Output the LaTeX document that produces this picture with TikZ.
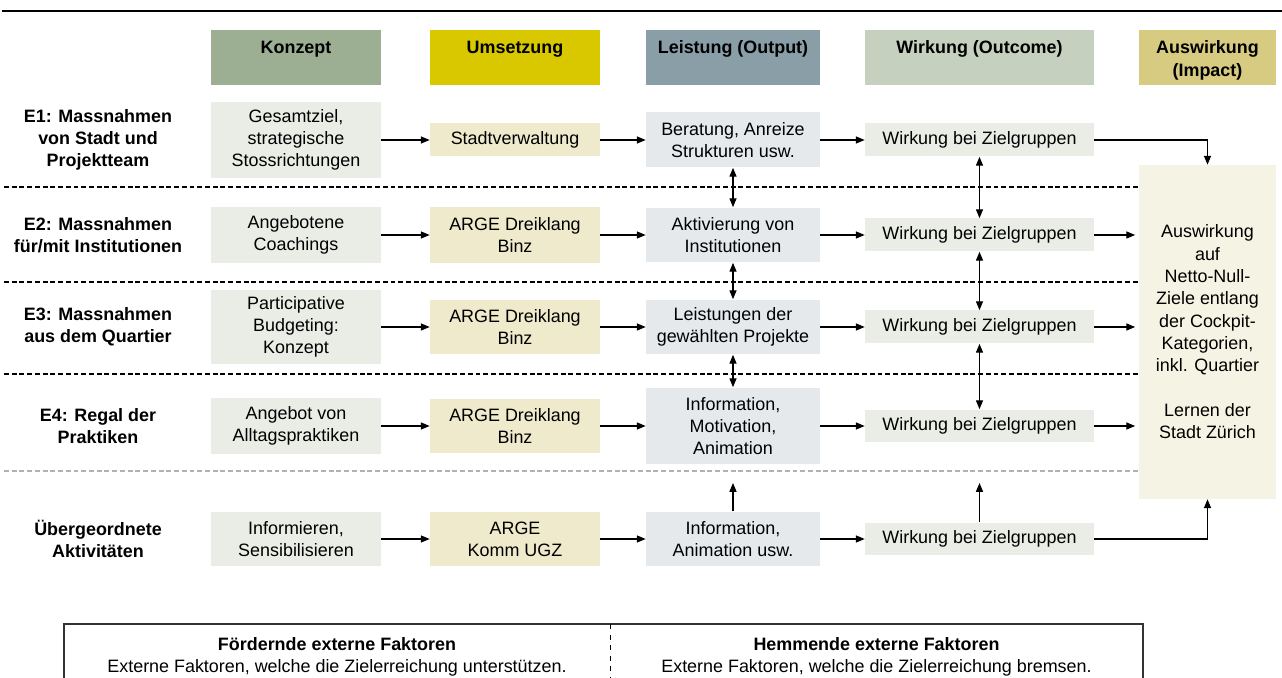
\documentclass[tikz,border=0pt]{standalone}
\usepackage{fontspec}
\setmainfont{Liberation Sans}
\usetikzlibrary{arrows.meta}

\definecolor{hdrKonzept}{HTML}{9DAF93}
\definecolor{hdrUmsetz}{HTML}{D9C800}
\definecolor{hdrLeist}{HTML}{8A9EA8}
\definecolor{hdrWirk}{HTML}{C5D1BE}
\definecolor{hdrAusw}{HTML}{D6CB80}
\definecolor{fillGreen}{HTML}{E9EDE6}
\definecolor{fillBeige}{HTML}{EFEACC}
\definecolor{fillBlue}{HTML}{E6E9EC}
\definecolor{fillAusw}{HTML}{F5F3E3}

\tikzset{
  txt/.style={font=\fontsize{10.2}{12.7}\selectfont, align=center},
  hdr/.style={inner sep=0pt, minimum height=1.1cm},
  hdrtxt/.style={txt, font=\fontsize{10.2}{12.7}\selectfont\bfseries, anchor=north, inner sep=0pt},
  rowlabel/.style={txt, font=\fontsize{10.2}{12.7}\selectfont\bfseries},
  box/.style={txt, inner sep=2pt, minimum height=1.1cm},
  boxK/.style={box, fill=fillGreen, minimum width=3.4cm},
  boxU/.style={box, fill=fillBeige, minimum width=3.4cm},
  boxL/.style={box, fill=fillBlue, minimum width=3.48cm},
  boxW/.style={box, fill=fillGreen, minimum width=4.58cm, minimum height=0.66cm},
  arr/.style={-{Triangle[length=5pt,width=4pt]}, line width=0.6pt},
  darr/.style={{Triangle[length=5pt,width=4pt]}-{Triangle[length=5pt,width=4pt]}, line width=0.6pt},
  sep/.style={dashed, dash pattern=on 2.8pt off 1.6pt, line width=0.6pt}
}

\begin{document}
\begin{tikzpicture}[x=0.02cm, y=-0.02cm]
\useasboundingbox (0,0) rectangle (1282,678);

% title rule
\draw[line width=0.8pt] (2,11) -- (1282,11);

% row separators
\foreach \y in {187,282,374}
  \draw[sep] (4,\y) -- (1139,\y);
\draw[sep, draw=black!30] (4,471) -- (1139,471);

% column headers
\node[hdr, fill=hdrKonzept, minimum width=3.4cm] (hK) at (296,57.5) {};
\node[hdr, fill=hdrUmsetz, minimum width=3.4cm] (hU) at (515,57.5) {};
\node[hdr, fill=hdrLeist, minimum width=3.48cm] (hL) at (733,57.5) {};
\node[hdr, fill=hdrWirk, minimum width=4.58cm] (hW) at (979.5,57.5) {};
\node[hdr, fill=hdrAusw, minimum width=2.74cm] (hA) at (1207.5,57.5) {};
\node[hdrtxt] at (296,40.5) {Konzept};
\node[hdrtxt] at (515,40.5) {Umsetzung};
\node[hdrtxt] at (733,40.5) {Leistung (Output)};
\node[hdrtxt] at (979.5,40.5) {Wirkung (Outcome)};
\node[hdrtxt] at (1207.5,40.5) {Auswirkung\\(Impact)};

% row labels
\node[rowlabel] (e1) at (98,140) {E1: Massnahmen\\von Stadt und\\Projektteam};
\node[rowlabel] (e2) at (98,235) {E2: Massnahmen\\für/mit Institutionen};
\node[rowlabel] (e3) at (98,327) {E3: Massnahmen\\aus dem Quartier};
\node[rowlabel] (e4) at (98,426) {E4: Regal der\\Praktiken};
\node[rowlabel] (e5) at (98,539) {Übergeordnete\\Aktivitäten};

% Konzept
\node[boxK, minimum height=1.52cm] (k1) at (296,140) {Gesamtziel,\\strategische\\Stossrichtungen};
\node[boxK, minimum height=1.12cm] (k2) at (296,235) {Angebotene\\Coachings};
\node[boxK, minimum height=1.48cm] (k3) at (296,327) {Participative\\Budgeting:\\Konzept};
\node[boxK, minimum height=1.14cm] (k4) at (296,426) {Angebot von\\Alltagspraktiken};
\node[boxK] (k5) at (296,539) {Informieren,\\Sensibilisieren};

% Umsetzung
\node[boxU, minimum height=0.66cm] (u1) at (515,140) {Stadtverwaltung};
\node[boxU, minimum height=1.12cm] (u2) at (515,235) {ARGE Dreiklang\\Binz};
\node[boxU] (u3) at (515,327) {ARGE Dreiklang\\Binz};
\node[boxU] (u4) at (515,426) {ARGE Dreiklang\\Binz};
\node[boxU] (u5) at (515,539) {ARGE\\Komm UGZ};

% Leistung
\node[boxL] (l1) at (733,140) {Beratung, Anreize\\Strukturen usw.};
\node[boxL] (l2) at (733,235) {Aktivierung von\\Institutionen};
\node[boxL] (l3) at (733,327) {Leistungen der\\gewählten Projekte};
\node[boxL, minimum height=1.54cm] (l4) at (733,426) {Information,\\Motivation,\\Animation};
\node[boxL] (l5) at (733,539) {Information,\\Animation usw.};

% Wirkung
\foreach \i/\y in {1/140,2/235,3/327,4/426,5/539}
  \node[boxW] (w\i) at (979.5,\y) {Wirkung bei Zielgruppen};

% Auswirkung
\node[txt, fill=fillAusw, inner sep=2pt, minimum width=2.74cm, minimum height=6.68cm] (A) at (1207.5,332)
  {Auswirkung\\auf\\Netto-Null-\\Ziele entlang\\der Cockpit-\\Kategorien,\\inkl. Quartier\\[12.7pt]Lernen der\\Stadt Zürich};

% flow along the rows
\foreach \i in {1,...,5} {
  \draw[arr] (k\i) -- (u\i);
  \draw[arr] (u\i) -- (l\i);
  \draw[arr] (l\i) -- (w\i);
}

% links between rows
\foreach \i/\j in {1/2,2/3,3/4} {
  \draw[darr] (l\i) -- (l\j);
  \draw[darr] (w\i) -- (w\j);
}
\coordinate (lUp) at (733,483);
\coordinate (wUp) at (979.5,483);
\draw[arr] (l5) -- (lUp);
\draw[arr] (w5) -- (wUp);

% into the impact box
\draw[arr] (w1) -| (A);
\foreach \i in {2,3,4}
  \draw[arr, shorten >=2pt] (w\i) -- (w\i -| A.west);
\draw[arr] (w5) -| (A);

% external factors
\draw[line width=0.9pt, draw=black!80] (64,679) -- (64,624) -- (1143,624) -- (1143,679);
\draw[dashed, line width=0.4pt] (610,624) -- (610,679);
\node[txt] (foerd) at (337,657) {\textbf{Fördernde externe Faktoren}\\Externe Faktoren, welche die Zielerreichung unterstützen.};
\node[txt] (hemm) at (876.5,657) {\textbf{Hemmende externe Faktoren}\\Externe Faktoren, welche die Zielerreichung bremsen.};
\end{tikzpicture}
\end{document}
